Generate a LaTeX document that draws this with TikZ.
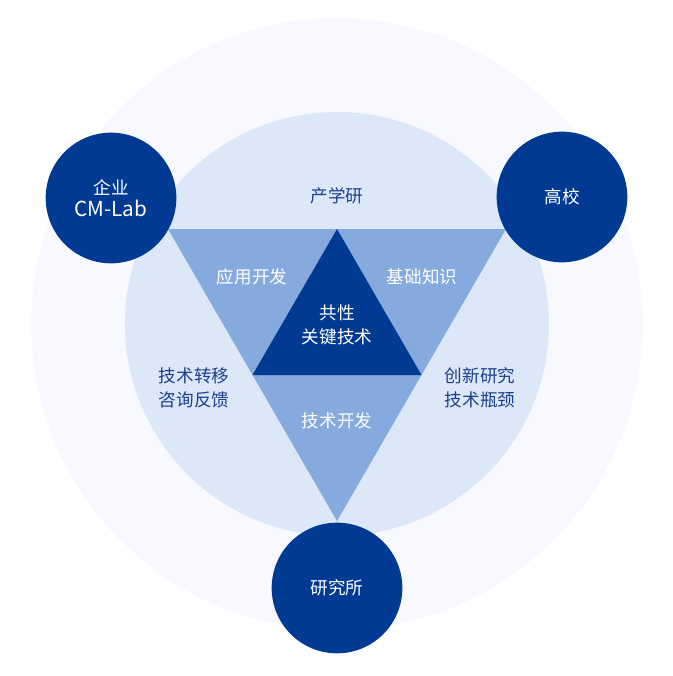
\documentclass[tikz,border=0pt]{standalone}
\usepackage{fontspec}
\usepackage{xcolor}
\usepackage{tikz}
\usetikzlibrary{positioning,calc}
\newfontfamily\cjk{Noto Sans CJK SC}
\definecolor{ringpale}{HTML}{F7F9FE}
\definecolor{ringlight}{HTML}{DCE7F8}
\definecolor{trimid}{HTML}{86A9DE}
\definecolor{coreblue}{HTML}{003A92}
\definecolor{labelblue}{HTML}{1E3F8E}

\begin{document}
\begin{tikzpicture}[x=0.75pt,y=-0.75pt,every node/.style={font=\cjk\fontsize{13.2}{18}\selectfont},
    hub/.style={circle,fill=coreblue,text=white,minimum size=98pt,inner sep=0pt,align=center},
    onlight/.style={text=labelblue,align=center},
    ondark/.style={text=white,align=center}]
  \useasboundingbox (0,0) rectangle (673,676);
  % background rings
  \fill[ringpale]  (337,324) circle (229.5pt);
  \fill[ringlight] (337,324) circle (159pt);
  % triangles
  \coordinate (tl) at (168,229);
  \coordinate (tr) at (506,229);
  \coordinate (bt) at (337,521);
  \coordinate (mt) at ($(tl)!0.5!(tr)$);
  \coordinate (ml) at ($(tl)!0.5!(bt)$);
  \coordinate (mr) at ($(tr)!0.5!(bt)$);
  \fill[trimid]   (tl) -- (tr) -- (bt) -- cycle;
  \fill[coreblue] (mt) -- (mr) -- (ml) -- cycle;
  % partners
  \node[hub] (firm) at (111,198) {企业\\[-1pt]{\fontsize{15.5}{18}\selectfont CM-Lab}};
  \node[hub] (univ) at (562,197) {高校};
  \node[hub] (inst) at (337,588) {研究所};
  % labels
  \node[onlight] (iur)   at (337,196) {产学研};
  \node[ondark]  (apply) at (252,277) {应用开发};
  \node[ondark]  (basic) at (422,277) {基础知识};
  \node[ondark]  (core)  at (337,325) {共性\\关键技术};
  \node[onlight] (trans) at (194,388) {技术转移\\咨询反馈};
  \node[onlight] (innov) at (480,388) {创新研究\\技术瓶颈};
  \node[ondark]  (dev)   at (337,421) {技术开发};
\end{tikzpicture}
\end{document}
